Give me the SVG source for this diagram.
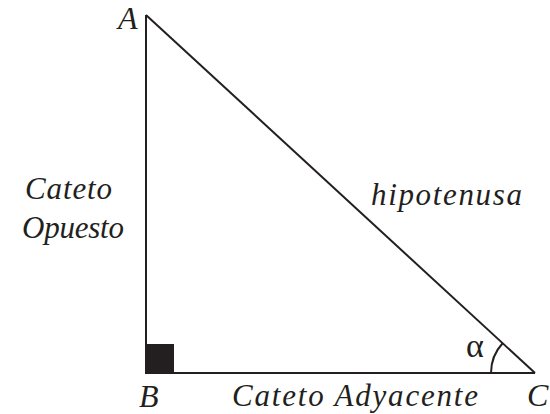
<svg xmlns="http://www.w3.org/2000/svg" width="550" height="414" viewBox="0 0 550 414">
<style>
.t{font-family:"Liberation Serif","Times New Roman",serif;font-style:italic;font-size:31px;fill:#231f20}
.v{font-size:32px}
.l{stroke:#231f20;stroke-width:2;fill:none}
</style>
<rect width="550" height="414" fill="#fff"/>
<g id="connectors">
<line class="l" x1="146" y1="15" x2="146" y2="374"/>
<line class="l" x1="145" y1="373" x2="535" y2="373"/>
<line class="l" x1="146" y1="15" x2="535" y2="373"/>
<path class="l" d="M491 373 A44 44 0 0 1 502.6 343.2"/>
</g>
<g id="right-angle"><rect x="146" y="344" width="28" height="29" fill="#231f20"/></g>
<g id="A"><text class="t v" x="118" y="29">A</text></g>
<g id="B"><text class="t v" x="139" y="407">B</text></g>
<g id="C"><text class="t v" x="527" y="406">C</text></g>
<g id="alpha"><text x="466" y="357" style="font-family:'Liberation Serif',serif;font-size:34px;fill:#231f20">α</text></g>
<g id="cateto-opuesto">
<text class="t" x="25" y="199" textLength="87" lengthAdjust="spacing">Cateto</text>
<text class="t" x="22" y="238" textLength="102" lengthAdjust="spacing">Opuesto</text>
</g>
<g id="hipotenusa"><text class="t" x="371" y="205" textLength="151" lengthAdjust="spacing">hipotenusa</text></g>
<g id="cateto-adyacente"><text class="t" x="232" y="406" textLength="246" lengthAdjust="spacing">Cateto Adyacente</text></g>
</svg>
